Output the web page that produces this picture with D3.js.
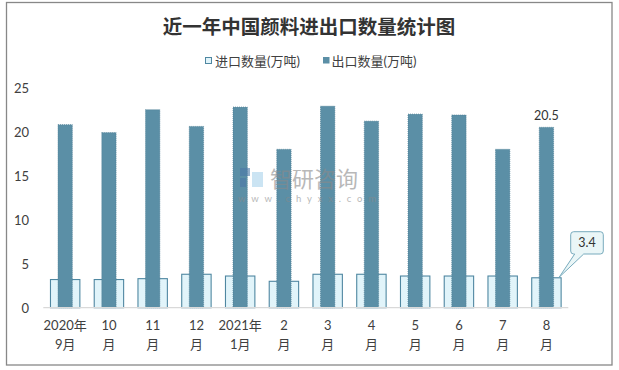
<!DOCTYPE html>
<html>
<head>
<meta charset="utf-8">
<script src="https://cdn.jsdelivr.net/npm/d3@7"></script>
<style>
  html, body { margin: 0; padding: 0; background: #fff; }
  svg { display: block; }
  text { font-family: Lato, "Noto Sans CJK SC", sans-serif; }
</style>
</head>
<body>
<svg id="chart" width="619" height="370"></svg>
<script>
const title = "近一年中国颜料进出口数量统计图";
const categories = ["2020年9月","10月","11月","12月","2021年1月","2月","3月","4月","5月","6月","7月","8月"];
const tickLine1 = ["2020年","10","11","12","2021年","2","3","4","5","6","7","8"];
const tickLine2 = ["9月","月","月","月","1月","月","月","月","月","月","月","月"];
const seriesNames = ["进口数量(万吨)","出口数量(万吨)"];
const imports = [3.2,3.2,3.3,3.8,3.6,3.0,3.8,3.8,3.6,3.6,3.6,3.4];
const exports = [20.8,19.9,22.5,20.6,22.8,18.0,22.9,21.2,22.0,21.9,18.0,20.5];
const yTicks = [0,5,10,15,20,25];

const svg = d3.select("#chart");

// outer border
svg.append("rect").attr("x", 6.5).attr("y", 2.5).attr("width", 605.5).attr("height", 362.5)
  .attr("fill", "#fff").attr("stroke", "#888").attr("stroke-width", 1.3);

// title
svg.append("text").attr("x", 309).attr("y", 25).attr("text-anchor", "middle")
  .attr("dominant-baseline", "central")
  .style("font-family", "'Noto Sans CJK SC', sans-serif")
  .style("font-weight", "bold").style("font-size", "19.5px").attr("fill", "#333")
  .text(title);

// scales
const x = d3.scaleBand().domain(categories).range([43.3, 568.3]).padding(0);
const y = d3.scaleLinear().domain([0, 25]).range([307.7, 87.7]);

const colImpFill = "#e1f4fa", colImpStroke = "#4f87a1";
const colExp = "#5b8fa6";

// import bars (wide, behind)
const impW = x.bandwidth() * 0.672;
svg.append("g").selectAll("rect").data(imports).join("rect")
  .attr("x", (d, i) => x(categories[i]) + (x.bandwidth() - impW) / 2)
  .attr("y", d => y(d))
  .attr("width", impW)
  .attr("height", d => y(0) - y(d))
  .attr("fill", colImpFill).attr("stroke", colImpStroke).attr("stroke-width", 1.1);

// export bars (narrow, front)
const expW = x.bandwidth() * 0.328;
svg.append("g").selectAll("rect").data(exports).join("rect")
  .attr("x", (d, i) => x(categories[i]) + (x.bandwidth() - expW) / 2)
  .attr("y", d => y(d))
  .attr("width", expW)
  .attr("height", d => y(0) - y(d))
  .attr("fill", colExp).attr("stroke", "#4c7d94").attr("stroke-width", 0.7)
  .attr("stroke-dasharray", "1,1");

// x axis line
svg.append("line").attr("x1", 43.3).attr("x2", 568.3).attr("y1", y(0)).attr("y2", y(0))
  .attr("stroke", "#d9d9d9").attr("stroke-width", 1.2);

// watermark (on top, translucent)
const wm = svg.append("g").attr("opacity", 0.6);
wm.append("rect").attr("x", 240).attr("y", 168).attr("width", 10).attr("height", 8).attr("fill", "#4d79a8");
wm.append("rect").attr("x", 240).attr("y", 178).attr("width", 6).attr("height", 9).attr("fill", "#4d79a8");
wm.append("rect").attr("x", 252).attr("y", 172).attr("width", 11).attr("height", 15).attr("fill", "#a9d3ec");
wm.append("text").attr("x", 270).attr("y", 177).attr("dominant-baseline", "central")
  .style("font-family", "'Noto Sans CJK SC', sans-serif").style("font-size", "22px")
  .attr("fill", "#8a8a8a").text("智研咨询");
wm.append("text").attr("x", 238).attr("y", 198.5).attr("dominant-baseline", "central")
  .style("font-size", "9.5px").style("letter-spacing", "5.8px")
  .attr("fill", "#8a8a8a").text("www.chyxx.com");

// y axis labels
svg.append("g").selectAll("text").data(yTicks).join("text")
  .attr("x", 29).attr("y", d => y(d)).attr("text-anchor", "end")
  .attr("dominant-baseline", "central")
  .style("font-size", "13px").attr("fill", "#404040")
  .text(d => d);

// x labels
const xl = svg.append("g");
xl.selectAll("text.l1").data(categories).join("text").attr("class", "l1")
  .attr("x", d => x(d) + x.bandwidth() / 2).attr("y", 325)
  .attr("text-anchor", "middle").attr("dominant-baseline", "central")
  .style("font-size", "13px").attr("fill", "#404040")
  .text((d, i) => tickLine1[i]);
xl.selectAll("text.l2").data(categories).join("text").attr("class", "l2")
  .attr("x", d => x(d) + x.bandwidth() / 2).attr("y", 343.5)
  .attr("text-anchor", "middle").attr("dominant-baseline", "central")
  .style("font-size", "13px").attr("fill", "#404040")
  .text((d, i) => tickLine2[i]);

// legend
const lg = svg.append("g");
lg.append("rect").attr("x", 205.5).attr("y", 57.5).attr("width", 6).attr("height", 6)
  .attr("fill", colImpFill).attr("stroke", colImpStroke).attr("stroke-width", 1);
lg.append("text").attr("x", 215).attr("y", 61).attr("dominant-baseline", "central")
  .style("font-size", "13px").attr("fill", "#404040").text(seriesNames[0]);
lg.append("rect").attr("x", 323).attr("y", 57).attr("width", 6.5).attr("height", 6.5)
  .attr("fill", colExp);
lg.append("text").attr("x", 331.5).attr("y", 61).attr("dominant-baseline", "central")
  .style("font-size", "13px").attr("fill", "#404040").text(seriesNames[1]);

// data label for last export
const last = categories.length - 1;
const cx = x(categories[last]) + x.bandwidth() / 2;
svg.append("text").attr("x", cx).attr("y", y(exports[last]) - 12)
  .attr("text-anchor", "middle").attr("dominant-baseline", "central")
  .style("font-size", "12.5px").attr("fill", "#333").text(exports[last]);

// callout for last import
const px = x(categories[last]) + (x.bandwidth() + impW) / 2 - 2;
const py = y(imports[last]) - 0.5;
const bx = 570.7, by = 231.7, bw = 32.6, bh = 22.3, r = 3;
const path = d3.path();
path.moveTo(bx + r, by);
path.lineTo(bx + bw - r, by);
path.quadraticCurveTo(bx + bw, by, bx + bw, by + r);
path.lineTo(bx + bw, by + bh - r);
path.quadraticCurveTo(bx + bw, by + bh, bx + bw - r, by + bh);
path.lineTo(bx + 13, by + bh);
path.lineTo(px, py);
path.lineTo(bx + 4, by + bh);
path.lineTo(bx + r, by + bh);
path.quadraticCurveTo(bx, by + bh, bx, by + bh - r);
path.lineTo(bx, by + r);
path.quadraticCurveTo(bx, by, bx + r, by);
path.closePath();
svg.append("path").attr("d", path.toString())
  .attr("fill", "#eaf6f7").attr("stroke", "#78abbd").attr("stroke-width", 1);
svg.append("text").attr("x", bx + bw / 2).attr("y", by + bh / 2)
  .attr("text-anchor", "middle").attr("dominant-baseline", "central")
  .style("font-size", "12.5px").attr("fill", "#333").text(imports[last]);
</script>
</body>
</html>
